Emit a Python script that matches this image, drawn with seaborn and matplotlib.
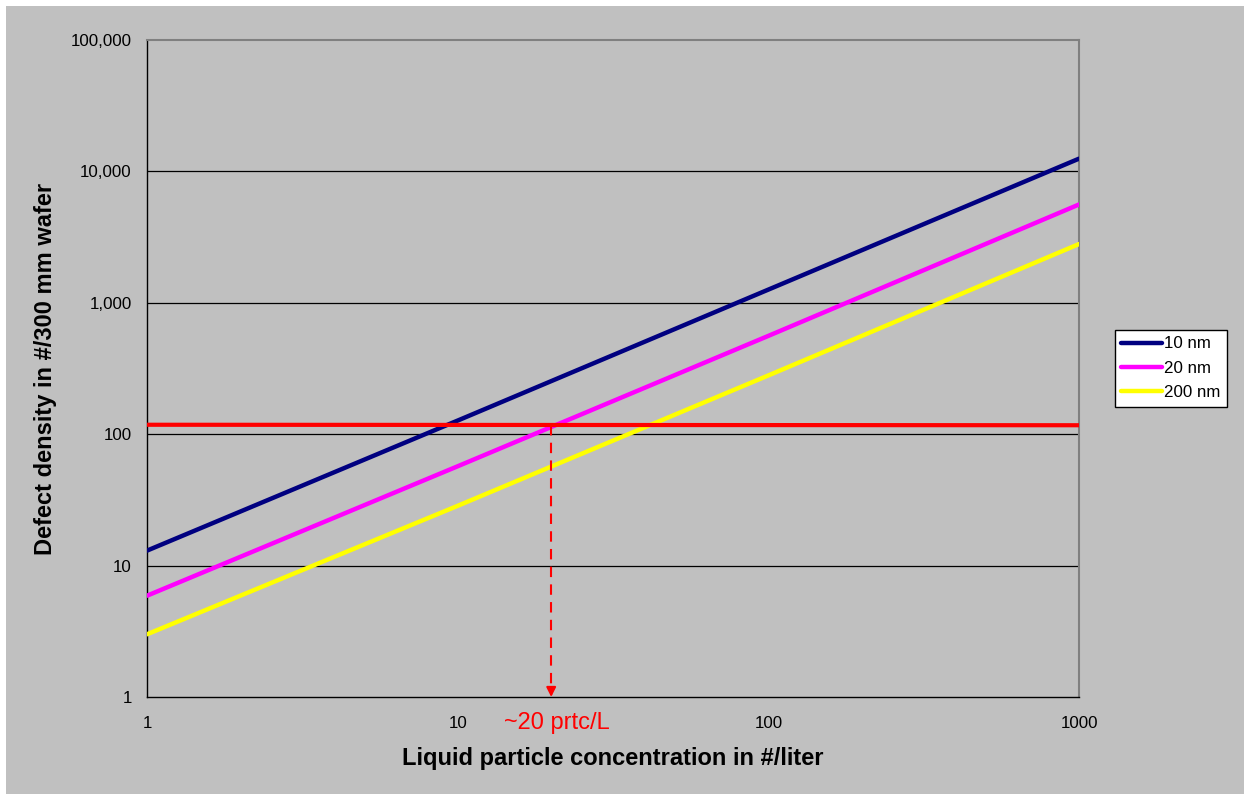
import numpy as np
import pandas as pd
import matplotlib
matplotlib.use("Agg")
import matplotlib.pyplot as plt
from matplotlib.ticker import FixedLocator, FuncFormatter, NullLocator
from matplotlib.patches import Rectangle
import seaborn as sns

# Particle concentration in the liquid (#/liter)
concentration = [1, 10, 100, 1000]
# Resulting defect density (#/300 mm wafer) per particle size
defects_10nm = [13, 127, 1260, 12500]
defects_20nm = [5.9, 57, 560, 5600]
defects_200nm = [3.0, 28.5, 280, 2800]
series_names = ["10 nm", "20 nm", "200 nm"]
series_colors = ["#000080", "#FF00FF", "#FFFF00"]

# Allowed defect level and the concentration where the 20 nm curve meets it
limit_x = [1, 1000]
limit_y = [118, 117]
crossing_conc = 20
annotation_text = "~20 prtc/L"

x_ticks = [1, 10, 100, 1000]
y_ticks = [1, 10, 100, 1000, 10000, 100000]

df = pd.DataFrame({
    "conc": concentration * 3,
    "defects": defects_10nm + defects_20nm + defects_200nm,
    "size": sum([[n] * len(concentration) for n in series_names], []),
})

sns.set_style("white")
plt.rcParams["font.family"] = ["Liberation Sans", "DejaVu Sans"]
plt.rcParams["text.color"] = "black"
plt.rcParams["axes.labelcolor"] = "black"

W, H = 1244, 794
fig = plt.figure(figsize=(W / 100, H / 100), dpi=100, facecolor="white")
fig.patches.append(Rectangle((6 / W, 0), 1, 1 - 6 / H, transform=fig.transFigure,
                             facecolor="#C0C0C0", edgecolor="none", zorder=-10))

ax = fig.add_axes([147 / W, 1 - 697 / H, (1079 - 147) / W, (697 - 40) / H])
ax.set_facecolor("#C0C0C0")
ax.set_xscale("log")
ax.set_yscale("log")
ax.set_xlim(1, 1000)
ax.set_ylim(1, 100000)

# Horizontal grid lines at each decade
for yv in y_ticks[1:-1]:
    ax.axhline(yv, color="black", lw=0.9, zorder=1)

sns.lineplot(data=df, x="conc", y="defects", hue="size", hue_order=series_names,
             palette=series_colors, linewidth=3.2, ax=ax, legend=False, zorder=3)

ax.plot(limit_x, limit_y, color="#FF0000", lw=3, zorder=4, solid_capstyle="butt")
ax.plot([crossing_conc, crossing_conc], [limit_y[0], 1.12], color="#FF0000",
        lw=1.5, ls=(0, (5, 3.5)), zorder=4)
ax.annotate("", xy=(crossing_conc, 1.0), xytext=(crossing_conc, 1.12),
            arrowprops=dict(arrowstyle="-|>", color="#FF0000", lw=1.5,
                            mutation_scale=14, shrinkA=0, shrinkB=0), zorder=5)

ax.xaxis.set_major_locator(FixedLocator(x_ticks))
ax.yaxis.set_major_locator(FixedLocator(y_ticks))
ax.xaxis.set_minor_locator(NullLocator())
ax.yaxis.set_minor_locator(NullLocator())
ax.xaxis.set_major_formatter(FuncFormatter(lambda v, p: f"{v:,.0f}".replace(",", "")))
ax.yaxis.set_major_formatter(FuncFormatter(lambda v, p: f"{v:,.0f}"))
ax.tick_params(axis="both", which="major", direction="out", length=5, width=1,
               color="black", labelsize=12.2, labelcolor="black")
ax.tick_params(axis="x", pad=9)
ax.tick_params(axis="y", pad=6)

for side in ["left", "bottom"]:
    ax.spines[side].set_color("black")
    ax.spines[side].set_linewidth(1)
for side in ["top", "right"]:
    ax.spines[side].set_color("#808080")
    ax.spines[side].set_linewidth(1.5)

ax.set_xlabel("Liquid particle concentration in #/liter", fontsize=17,
              fontweight="bold", color="black")
ax.set_ylabel("Defect density in #/300 mm wafer", fontsize=17,
              fontweight="bold", color="black")
ax.xaxis.set_label_coords(0.5, (697 - 759) / (697 - 40))
ax.yaxis.set_label_coords((46 - 147) / (1079 - 147), 0.5)
ax.xaxis.label.set_va("center")
ax.yaxis.label.set_va("center")

# Annotation below the axis, centred under the arrow
ax.annotate(annotation_text, xy=(crossing_conc, 1), xycoords="data",
            xytext=(6, -26), textcoords="offset pixels",
            color="#FF0000", fontsize=17, ha="center", va="center")

handles = [plt.Line2D([0], [0], color=c, lw=3.2, solid_capstyle="round")
           for c in series_colors]
leg = fig.legend(handles, series_names, loc="upper left",
                 bbox_to_anchor=(1115 / W, 1 - 330 / H), fontsize=12.2,
                 frameon=True, fancybox=False, borderpad=0.38, handlelength=2.4,
                 handletextpad=0.1, labelspacing=0.55, borderaxespad=0)
leg.get_frame().set_edgecolor("black")
leg.get_frame().set_facecolor("white")
leg.get_frame().set_linewidth(1)
leg.get_frame().set_alpha(1)

fig.savefig("out.png", dpi=100, facecolor=fig.get_facecolor())
